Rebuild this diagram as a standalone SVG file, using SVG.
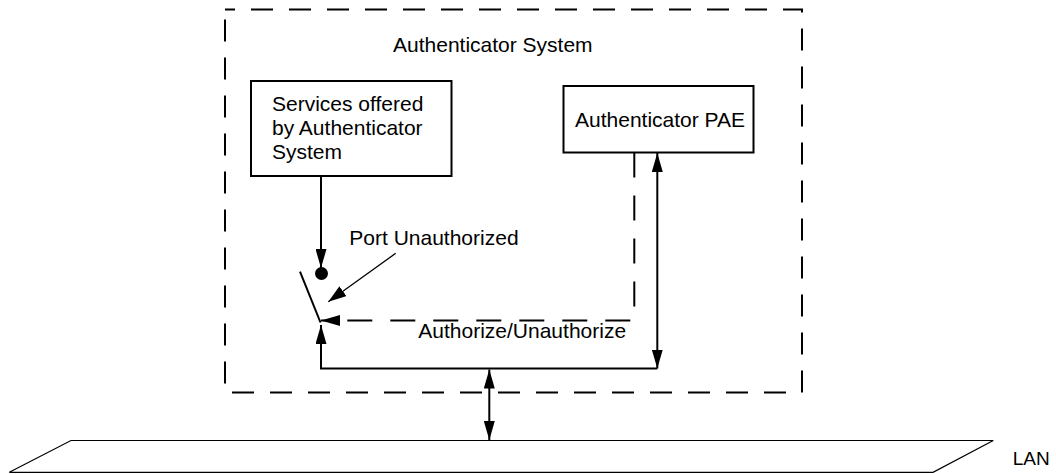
<svg xmlns="http://www.w3.org/2000/svg" width="1056" height="474" viewBox="0 0 1056 474">
<style>
text{font-family:"Liberation Sans",Arial,sans-serif;font-size:21px;fill:#000}
.box{fill:#fff;stroke:#000;stroke-width:2}
.ln{fill:none;stroke:#000;stroke-width:2}
.dash{fill:none;stroke:#000;stroke-width:2;stroke-dasharray:22 16}
.thin{fill:none;stroke:#000;stroke-width:1.3}
</style>
<defs>
<marker id="arr" markerUnits="userSpaceOnUse" markerWidth="19" markerHeight="11" viewBox="0 0 19 11" refX="19" refY="5.5" orient="auto-start-reverse">
<path d="M0,0 L19,5.5 L0,11 z" fill="#000"/>
</marker>
<marker id="arrs" markerUnits="userSpaceOnUse" markerWidth="18" markerHeight="12" viewBox="0 0 18 12" refX="18" refY="6" orient="auto">
<path d="M0,0 L18,6 L0,12 z" fill="#000"/>
</marker>
</defs>
<g id="authenticator-system">
<rect class="dash" x="225" y="9.5" width="577" height="383" style="stroke-dashoffset:12"/>
<text x="393" y="51.7">Authenticator System</text>
</g>
<g id="services">
<rect class="box" x="251" y="81" width="200.5" height="95"/>
<text x="272" y="110.7">Services offered</text>
<text x="272" y="135">by Authenticator</text>
<text x="272" y="159">System</text>
</g>
<g id="pae">
<rect class="box" x="563.5" y="86" width="190" height="66.5"/>
<text x="575" y="126.7">Authenticator PAE</text>
</g>
<g id="switch">
<circle cx="321.5" cy="273.5" r="6.5" fill="#000"/>
<line class="ln" x1="300" y1="271.7" x2="320.5" y2="322.5"/>
<text x="349.3" y="245">Port Unauthorized</text>
</g>
<g id="lan">
<polygon points="9.3,472.3 71,440.5 993.3,440.5 933,472.3" fill="none" stroke="#000" stroke-width="1.2"/>
<text x="1012.7" y="465" style="font-size:19px">LAN</text>
</g>
<g id="connectors">
<line class="ln" x1="321" y1="176" x2="321" y2="268" marker-end="url(#arr)"/>
<path class="dash" d="M634.3,152.5 L634.3,320.5 L321,320.5" marker-end="url(#arr)" style="stroke-dasharray:25 18"/>
<path class="ln" d="M657.3,368.5 L321,368.5 L321,325" marker-end="url(#arr)"/>
<line class="ln" x1="657.3" y1="153" x2="657.3" y2="368.5" marker-start="url(#arr)" marker-end="url(#arr)"/>
<line class="ln" x1="489.3" y1="369.5" x2="489.3" y2="440" marker-start="url(#arr)" marker-end="url(#arr)"/>
<line class="thin" x1="395.7" y1="253.3" x2="328.3" y2="301.7" marker-end="url(#arrs)"/>
<text x="418.3" y="338.3">Authorize/Unauthorize</text>
</g>
</svg>
